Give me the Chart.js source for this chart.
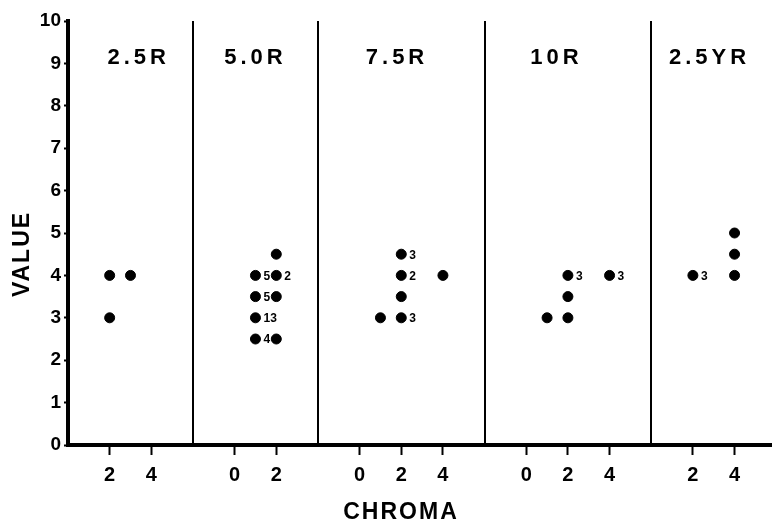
<!DOCTYPE html>
<html>
<head>
<meta charset="utf-8">
<title>Value vs chroma by hue</title>
<script src="https://cdn.jsdelivr.net/npm/chart.js@4.4.1/dist/chart.umd.min.js"></script>
<style>
  html, body { margin: 0; padding: 0; background: #fff; }
  #wrap { width: 777px; height: 520px; }
</style>
</head>
<body>
<div id="wrap"><canvas id="chart"></canvas></div>
<script>
// ===== DATA =====
const hues = ['2.5R', '5.0R', '7.5R', '10R', '2.5YR'];

// one dot per entry; count = number printed beside the dot (null = none)
const chroma25R = [2, 3, 2];
const value25R  = [4, 4, 3];
const count25R  = [null, null, null];

const chroma50R = [1, 1, 1, 1, 2, 2, 2, 2];
const value50R  = [4, 3.5, 3, 2.5, 4.5, 4, 3.5, 2.5];
const count50R  = [5, 5, 13, 4, null, 2, null, null];

const chroma75R = [1, 2, 2, 2, 2, 4];
const value75R  = [3, 4.5, 4, 3.5, 3, 4];
const count75R  = [null, 3, 2, null, 3, null];

const chroma10R = [1, 2, 2, 2, 4];
const value10R  = [3, 4, 3.5, 3, 4];
const count10R  = [null, 3, null, null, 3];

const chroma25YR = [2, 4, 4, 4];
const value25YR  = [4, 5, 4.5, 4];
const count25YR  = [3, null, null, null];

// chroma tick labels shown under each hue panel
const chromaTicks = [[2, 4], [0, 2], [0, 2, 4], [0, 2, 4], [2, 4]];

// ===== PANEL LAYOUT (chroma range of each panel) =====
const chromaMin = [0, -2, -2, -2, 0];
const chromaMax = [6, 4, 6, 6, 5.75];
const titleAt   = [3.3, 0.9, 1.7, 1.35, 2.7];   // chroma where each hue name sits

const chromaSets = [chroma25R, chroma50R, chroma75R, chroma10R, chroma25YR];
const valueSets  = [value25R, value50R, value75R, value10R, value25YR];
const countSets  = [count25R, count50R, count75R, count10R, count25YR];

// panels are laid side by side on one shared x scale
const panelStart = [];
const offsets = [];
let acc = 0;
hues.forEach((h, p) => {
  panelStart.push(acc);
  offsets.push(acc - chromaMin[p]);
  acc += chromaMax[p] - chromaMin[p];
});
const xMax = acc;

const tickPos = [];
const tickText = {};
chromaTicks.forEach((list, p) => {
  list.forEach(c => {
    const v = offsets[p] + c;
    tickPos.push(v);
    tickText[v] = String(c);
  });
});

const FONT = '"Liberation Sans", Arial, sans-serif';

// ===== CHART DATA =====
const datasets = hues.map((h, p) => ({
  label: h,
  data: chromaSets[p].map((c, i) => ({ x: offsets[p] + c, y: valueSets[p][i] })),
  backgroundColor: '#000',
  borderColor: '#000',
  pointRadius: 5,
  pointHoverRadius: 5
}));

// ===== PLUGIN: dividers, hue names, counts, axis titles =====
const panelPlugin = {
  id: 'panels',
  beforeDatasetsDraw(chart) {
    const { ctx, chartArea, scales: { x } } = chart;
    ctx.save();
    ctx.strokeStyle = '#000';
    ctx.lineWidth = 2;
    for (let p = 1; p < hues.length; p++) {
      const px = Math.round(x.getPixelForValue(panelStart[p]));
      ctx.beginPath();
      ctx.moveTo(px, chartArea.top);
      ctx.lineTo(px, chartArea.bottom);
      ctx.stroke();
    }
    ctx.fillStyle = '#000';
    ctx.font = 'bold 22px ' + FONT;
    ctx.letterSpacing = '4px';
    ctx.textAlign = 'center';
    ctx.textBaseline = 'alphabetic';
    hues.forEach((h, p) => {
      ctx.fillText(h, x.getPixelForValue(offsets[p] + titleAt[p]) + 2, chartArea.top + 43);
    });
    ctx.restore();
  },
  afterDatasetsDraw(chart) {
    const { ctx } = chart;
    ctx.save();
    ctx.fillStyle = '#000';
    ctx.font = 'bold 12px ' + FONT;
    ctx.textAlign = 'left';
    ctx.textBaseline = 'middle';
    hues.forEach((h, p) => {
      const meta = chart.getDatasetMeta(p);
      countSets[p].forEach((n, i) => {
        if (n == null) return;
        const el = meta.data[i];
        ctx.fillText(String(n), el.x + 8, el.y + 1);
      });
    });
    ctx.restore();
  },
  afterDraw(chart) {
    const { ctx, chartArea } = chart;
    ctx.save();
    ctx.fillStyle = '#000';
    ctx.font = 'bold 23px ' + FONT;
    ctx.letterSpacing = '2px';
    ctx.textAlign = 'center';
    ctx.textBaseline = 'alphabetic';
    ctx.fillText('CHROMA', 401, 519);
    ctx.translate(29, chartArea.top + 233);
    ctx.rotate(-Math.PI / 2);
    ctx.fillText('VALUE', 0, 0);
    ctx.restore();
  }
};

// ===== CHART CONFIG =====
const config = {
  type: 'scatter',
  data: { datasets },
  options: {
    responsive: true,
    maintainAspectRatio: false,
    animation: false,
    layout: { padding: { top: 21, right: 0, left: 0, bottom: 0 } },
    plugins: {
      legend: { display: false },
      tooltip: { enabled: false }
    },
    scales: {
      x: {
        type: 'linear',
        min: 0,
        max: xMax,
        afterFit: (s) => { s.height = 75; },
        afterBuildTicks: (s) => { s.ticks = tickPos.map(v => ({ value: v })); },
        grid: { drawOnChartArea: false, drawTicks: true, tickLength: 10, tickWidth: 2, tickColor: '#000' },
        border: { display: true, color: '#000', width: 4 },
        ticks: {
          autoSkip: false,
          maxRotation: 0,
          padding: 8,
          color: '#000',
          font: { family: FONT, size: 20, weight: 'bold' },
          callback: (v) => tickText[v] ?? ''
        }
      },
      y: {
        type: 'linear',
        min: 0,
        max: 10,
        afterFit: (s) => { s.width = 68; },
        grid: { drawOnChartArea: false, drawTicks: true, tickLength: 4, tickWidth: 2, tickColor: '#000' },
        border: { display: true, color: '#000', width: 4 },
        ticks: {
          stepSize: 1,
          padding: 3,
          color: '#000',
          font: { family: FONT, size: 19, weight: 'bold' }
        }
      }
    }
  },
  plugins: [panelPlugin]
};

// ===== INIT =====
new Chart(document.getElementById('chart'), config);
</script>
</body>
</html>
